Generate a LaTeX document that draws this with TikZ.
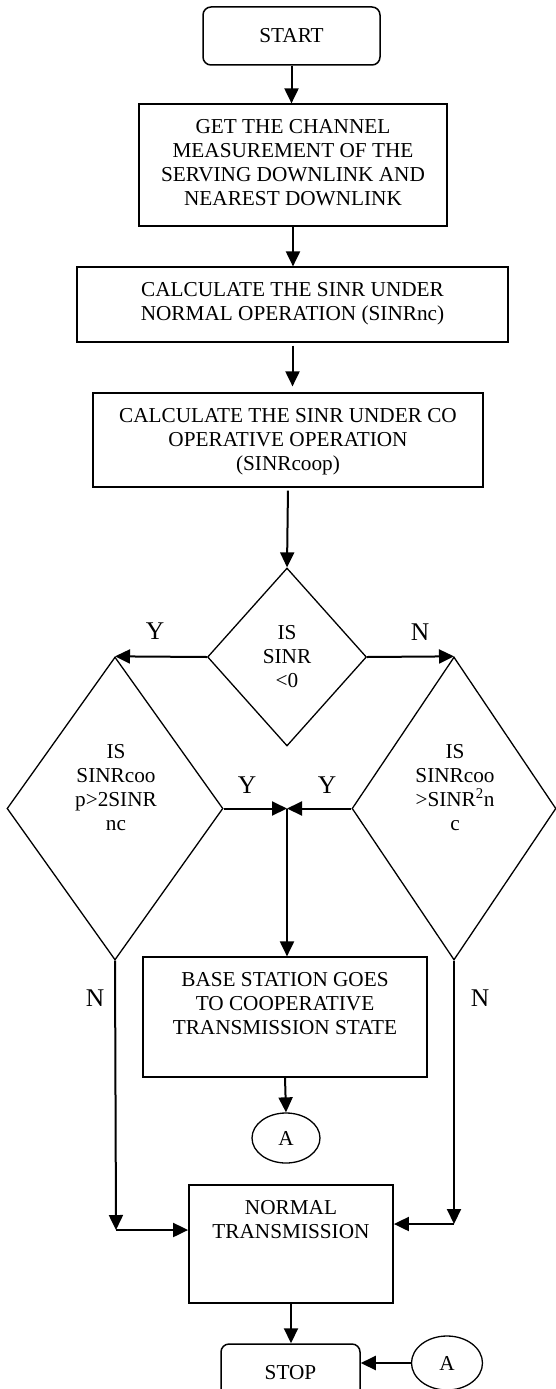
\documentclass[tikz,border=0pt]{standalone}
\usepackage{fontspec}
\setmainfont{Liberation Serif}
\usetikzlibrary{shapes.geometric,arrows.meta}
\newcommand\boxtxt[3]{\begin{minipage}[c][#2][t]{#1}\centering\vspace*{15pt}#3\end{minipage}}
\begin{document}
\begin{tikzpicture}[x=1pt,y=1pt,
  font=\fontsize{21.25}{24}\selectfont,
  box/.style={draw, line width=1.2pt, inner sep=0pt},
  term/.style={draw, rounded corners=8pt, line width=1.5pt, inner sep=0pt, minimum height=58pt},
  dia/.style={draw, diamond, line width=1.3pt, inner sep=0pt},
  conn/.style={draw, ellipse, line width=1.3pt, inner sep=0pt},
  arr/.style={line width=2pt, -{Triangle[length=15pt,width=14pt]}},
  dtext/.style={inner sep=0pt, align=center},
  lbl/.style={inner sep=0pt, font=\fontsize{25.5}{28}\selectfont}]

\useasboundingbox (0,0) rectangle (555,-1389);

% process boxes
\node[term, minimum width=177pt] (start) at (291.5,-36) {START};
\node[box] (b2) at (293,-165) {\boxtxt{308pt}{122pt}{GET THE CHANNEL\\MEASUREMENT OF THE\\SERVING DOWNLINK AND\\NEAREST DOWNLINK}};
\node[box] (b3) at (292.5,-304.5) {\boxtxt{431pt}{75pt}{CALCULATE THE SINR UNDER\\NORMAL OPERATION (SINRnc)}};
\node[box] (b4) at (288,-440) {\boxtxt{390pt}{94pt}{CALCULATE THE SINR UNDER CO\\OPERATIVE OPERATION\\(SINRcoop)}};

% decisions
\node[dia, minimum width=159pt, minimum height=178pt] (d1) at (287,-657) {};
\node[dtext] (d1t) at (287,-657) {IS\\SINR\\<0};
\node[dia, minimum width=216pt, minimum height=303pt] (dL) at (115,-808.5) {};
\node[dtext] (dLt) at (116,-787.5) {IS\\SINRcoo\\p>2SINR\\nc};
\node[dia, minimum width=204pt, minimum height=303pt] (dR) at (454,-808.5) {};
\node[dtext] (dRt) at (455,-787.5) {IS\\SINRcoo\\>SINR\textsuperscript{2}n\\c};

\node[box] (b5) at (285,-1017) {\boxtxt{284pt}{120pt}{BASE STATION GOES\\TO COOPERATIVE\\TRANSMISSION STATE}};
\node[conn, minimum width=68pt, minimum height=50pt] (A1) at (286,-1138) {A};
\node[box, line width=1.8pt] (b6) at (291,-1244) {\boxtxt{204pt}{118pt}{NORMAL\\TRANSMISSION}};
\node[term, minimum width=139pt] (stop) at (290.5,-1373) {STOP};
\node[conn, minimum width=71pt, minimum height=54pt] (A2) at (447,-1363) {A};

% connectors
\draw[arr] (start.south) -- (start.south |- b2.north);
\draw[arr] (b2.south) -- (b2.south |- b3.north);
\draw[arr, shorten <=3pt, shorten >=6pt] (b3.south) -- (b3.south |- b4.north);
\draw[arr, shorten <=3pt] (b4.south) -- (d1.north);
\draw[arr] (d1.west) -- (dL.north);
\draw[arr] (d1.east) -- (dR.north);
\coordinate (j) at (287,-808.5);
\draw[arr] (dL.east) -- (j);
\draw[arr] (dR.west) -- (j);
\draw[arr] (j) -- (j |- b5.north);
\draw[arr] (b5.south) -- (A1.north);
\coordinate (cl) at (116,-1230);
\coordinate (cr) at (454,-1224);
\draw[arr] (dL.south) -- (cl);
\draw[arr] (cl) -- (cl -| b6.west);
\draw[arr] (dR.south) -- (cr);
\draw[arr] (cr) -- (cr -| b6.east);
\draw[arr] (b6.south) -- (b6.south |- stop.north);
\draw[arr] (A2.west) -- (A2.west -| stop.east);

% branch labels
\node[lbl] (y1) at (155,-631) {Y};
\node[lbl] (n1) at (420,-632) {N};
\node[lbl] (y2) at (247,-785) {Y};
\node[lbl] (y3) at (327,-785) {Y};
\node[lbl] (n2) at (95,-998) {N};
\node[lbl] (n3) at (480,-998) {N};
\end{tikzpicture}
\end{document}
